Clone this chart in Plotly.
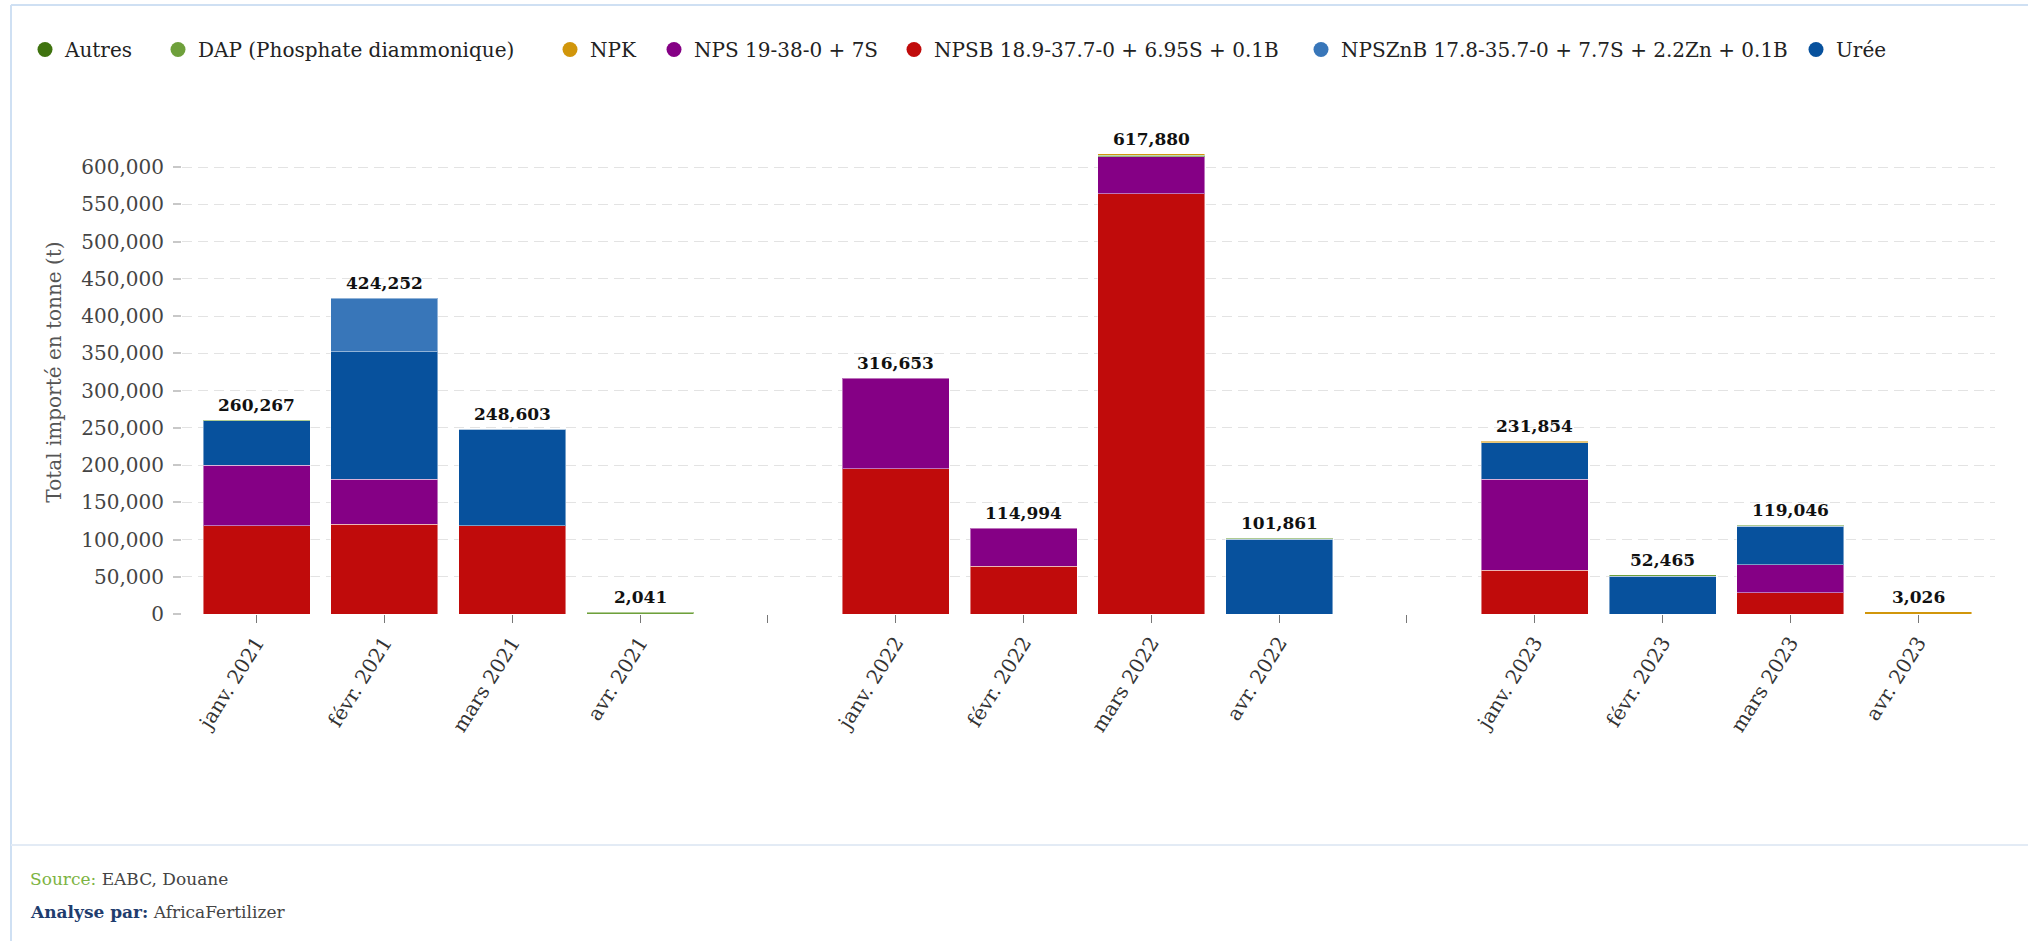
import plotly.graph_objects as go

W, H = 2028, 941
ML, MR, MT, MB = 182, 33, 130, 327
PW, PH = W - ML - MR, H - MT - MB

categories = ["janv. 2021", "févr. 2021", "mars 2021", "avr. 2021", " ",
              "janv. 2022", "févr. 2022", "mars 2022", "avr. 2022", "  ",
              "janv. 2023", "févr. 2023", "mars 2023", "avr. 2023"]

npsb   = [118500, 120800, 118500, None, None, 195000, 63900, 564700, None, None, 58600, None, 28600, None]
nps    = [81500, 60000, None, None, None, 121653, 51094, 49300, None, None, 122200, None, 37600, None]
uree   = [59500, 171200, 129500, None, None, None, None, None, 100300, None, 49200, 51000, 51800, None]
npsznb = [None, 72252, None, None, None, None, None, None, None, None, None, None, None, None]
autres = [None, None, None, None, None, None, None, 2380, None, None, None, None, None, None]
dap    = [767, None, 603, 2041, None, None, None, None, 1561, None, None, 1465, 1046, None]
npk    = [None, None, None, None, None, None, None, 1500, None, None, 1854, None, None, 3026]

names = {
    "autres": "Autres",
    "dap": "DAP (Phosphate diammonique)",
    "npk": "NPK",
    "nps": "NPS 19-38-0 + 7S",
    "npsb": "NPSB 18.9-37.7-0 + 6.95S + 0.1B",
    "npsznb": "NPSZnB 17.8-35.7-0 + 7.7S + 2.2Zn + 0.1B",
    "uree": "Urée",
}
colors = {
    "autres": "#3f730f",
    "dap": "#6ea03b",
    "npk": "#d1960b",
    "nps": "#850085",
    "npsb": "#c00b0b",
    "npsznb": "#3876b9",
    "uree": "#07519d",
}
series = {"npsb": npsb, "nps": nps, "uree": uree, "npsznb": npsznb,
          "autres": autres, "dap": dap, "npk": npk}

FONT = "DejaVu Serif"
fig = go.Figure()

# stacked bars (bottom to top)
for key in ["npsb", "nps", "uree", "npsznb", "autres", "dap", "npk"]:
    fig.add_trace(go.Bar(
        x=categories, y=series[key], name=names[key],
        marker=dict(color=colors[key], line=dict(color="rgba(255,255,255,0.45)", width=1)),
        showlegend=False, hoverinfo="skip",
    ))

# totals
totals = []
for i in range(len(categories)):
    vals = [series[k][i] for k in series if series[k][i] is not None]
    totals.append(sum(vals) if vals else None)

annotations = []
for cat, t in zip(categories, totals):
    if t:
        annotations.append(dict(
            x=cat, y=t, xref="x", yref="y", text=f"{t:,}", showarrow=False,
            yanchor="bottom", xanchor="center", yshift=3,
            font=dict(family=FONT, size=17, color="#111111", weight="bold"),
        ))

# legend entries (circle markers), one legend per entry for spacing
legend_order = ["autres", "dap", "npk", "nps", "npsb", "npsznb", "uree"]
marker_px = [45, 178, 570, 674, 914, 1321, 1816]
legend_layout = {}
for i, (key, mx) in enumerate(zip(legend_order, marker_px)):
    lname = "legend" if i == 0 else f"legend{i+1}"
    fig.add_trace(go.Scatter(
        x=[None], y=[None], mode="markers", name=names[key],
        marker=dict(color=colors[key], size=15, symbol="circle"),
        legend=lname, showlegend=True,
    ))
    legend_layout[lname] = dict(
        xref="container", yref="container",
        x=(mx - 20) / W, y=1 - 30 / H, xanchor="left", yanchor="top",
        orientation="h", bgcolor="rgba(0,0,0,0)", borderwidth=0,
        font=dict(family=FONT, size=20, color="#222222"),
        itemclick=False, itemdoubleclick=False,
    )

def px_x(p):
    return (p - ML) / PW

def px_y(p):
    return (H - MB - p) / PH

border = "#cfe0f3"
shapes = [
    dict(type="line", xref="paper", yref="paper", x0=px_x(11), x1=px_x(W), y0=px_y(5), y1=px_y(5),
         line=dict(color=border, width=2)),
    dict(type="line", xref="paper", yref="paper", x0=px_x(11), x1=px_x(11), y0=px_y(5), y1=px_y(H),
         line=dict(color=border, width=2)),
    dict(type="line", xref="paper", yref="paper", x0=px_x(11), x1=px_x(W), y0=px_y(845), y1=px_y(845),
         line=dict(color="#e3ebf5", width=2)),
]

annotations += [
    dict(xref="paper", yref="paper", x=px_x(28), y=px_y(879), xanchor="left", yanchor="middle",
         showarrow=False, align="left",
         text="<span style='color:#7cb342'>Source:</span> EABC, Douane",
         font=dict(family=FONT, size=17, color="#444444")),
    dict(xref="paper", yref="paper", x=px_x(28), y=px_y(912), xanchor="left", yanchor="middle",
         showarrow=False, align="left",
         text="<b><span style='color:#1f3d6e'>Analyse par:</span></b> AfricaFertilizer",
         font=dict(family=FONT, size=17, color="#444444")),
]

fig.update_layout(
    width=W, height=H,
    margin=dict(l=ML, r=MR, t=MT, b=MB, autoexpand=False),
    paper_bgcolor="white", plot_bgcolor="white",
    barmode="stack", bargap=0.163,
    font=dict(family=FONT, color="#333333"),
    shapes=shapes, annotations=annotations,
    **legend_layout,
)

fig.update_xaxes(
    type="category", categoryorder="array", categoryarray=categories,
    range=[-0.583, 13.6], showgrid=False, showline=False, zeroline=False,
    ticks="outside", ticklen=8, tickcolor="#777777", tickwidth=1,
    tickangle=-58, tickfont=dict(family=FONT, size=20, color="#333333"),
    automargin=False,
)
fig.update_yaxes(
    range=[0, 650000], tickvals=list(range(0, 600001, 50000)), tickformat=",d",
    showgrid=True, gridcolor="#e3e3e3", griddash="10px,6px", gridwidth=1,
    zeroline=False, showline=False,
    ticks="outside", ticklen=8, tickcolor="#c8c8c8", tickwidth=2,
    ticklabelstandoff=5,
    tickfont=dict(family=FONT, size=20, color="#444444"),
    title=dict(text="Total importé en tonne (t)", standoff=14,
               font=dict(family=FONT, size=20, color="#555555")),
    automargin=False,
)

fig.write_html(
    "out.html",
    config={"displayModeBar": False},
    post_script="document.body.style.margin='0';document.documentElement.style.overflow='hidden';",
)
